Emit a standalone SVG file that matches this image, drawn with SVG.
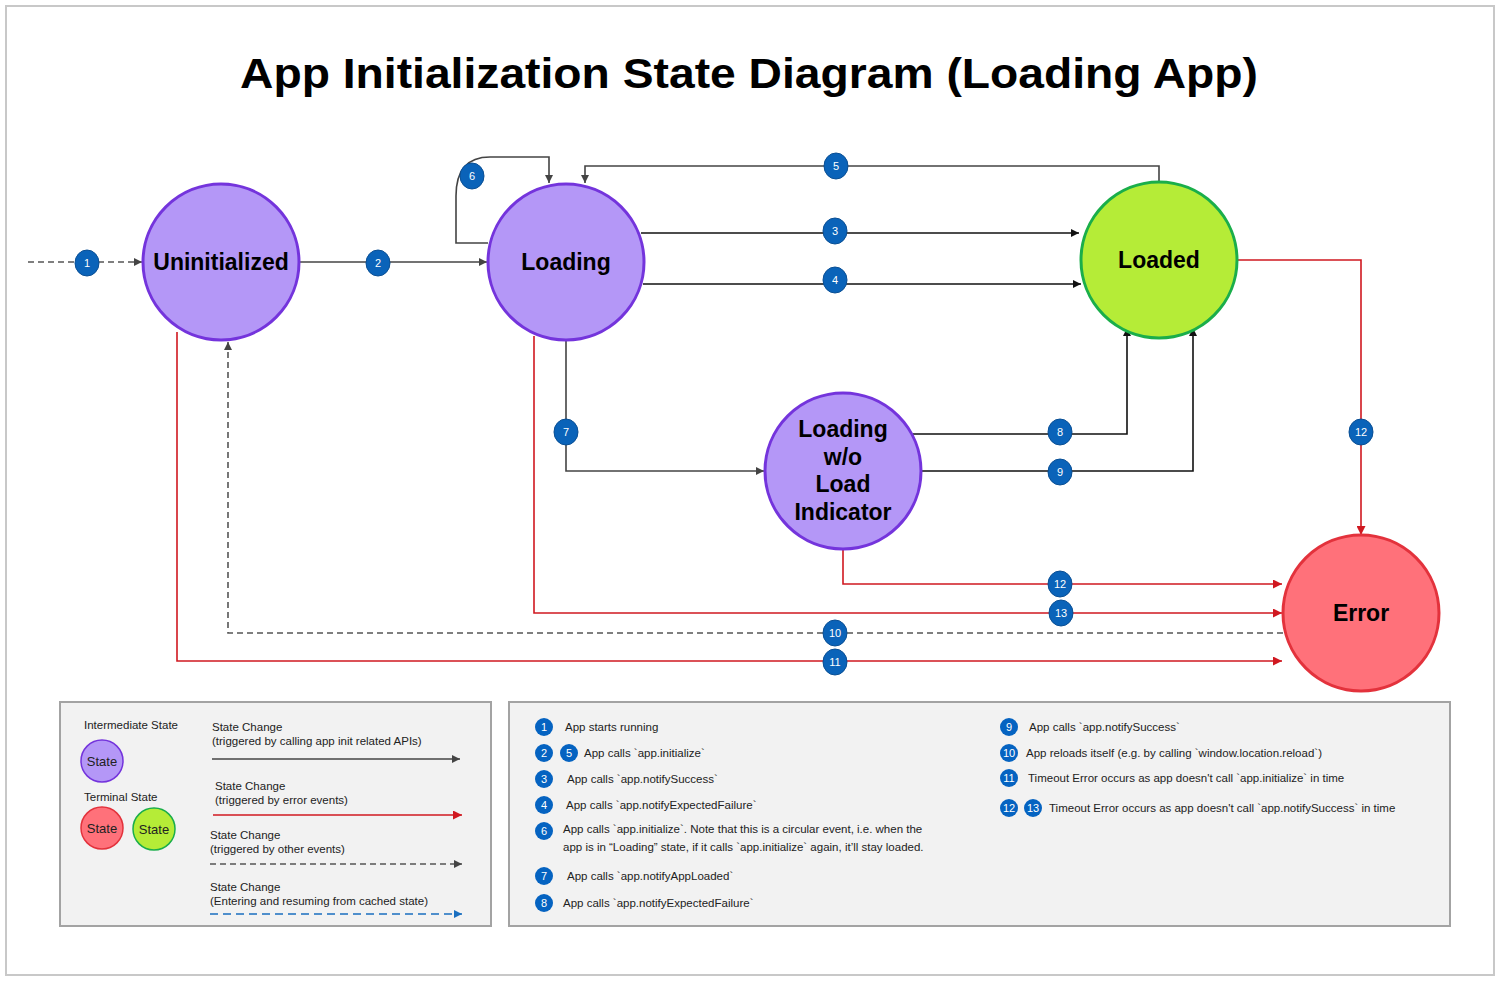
<svg xmlns="http://www.w3.org/2000/svg" width="1500" height="981" viewBox="0 0 1500 981">
<defs>
<style>
.title{font-family:"Liberation Sans",Arial,sans-serif;font-weight:bold;font-size:42px;fill:#000}
.nl{font-family:"Liberation Sans",Arial,sans-serif;font-weight:bold;font-size:23px;fill:#000;text-anchor:middle}
.purple{fill:#b497f7;stroke:#7434dc;stroke-width:3}
.green{fill:#b5ec37;stroke:#1aae4a;stroke-width:3}
.red{fill:#ff717a;stroke:#e3323c;stroke-width:3}
.cg{fill:none;stroke:#444;stroke-width:1.6}
.ck{fill:none;stroke:#111;stroke-width:1.6}
.cr{fill:none;stroke:#d01820;stroke-width:1.6}
.cd{fill:none;stroke:#555;stroke-width:1.6;stroke-dasharray:6 4}
.cb{fill:none;stroke:#1a6fc0;stroke-width:1.6;stroke-dasharray:8 5}
.bd{fill:#0a63b9;stroke:#0a4f94;stroke-width:1}
.bt{font-family:"Liberation Sans",Arial,sans-serif;font-size:11px;fill:#fff;text-anchor:middle}
.lg{fill:#f2f2f2;stroke:#a3a3a3;stroke-width:2}
.lt{font-family:"Liberation Sans",Arial,sans-serif;font-size:11.5px;fill:#222}
.lb{fill:#0563c1}
.lbt{font-family:"Liberation Sans",Arial,sans-serif;font-size:11px;fill:#fff;text-anchor:middle}
.st{font-family:"Liberation Sans",Arial,sans-serif;font-size:13px;fill:#222;text-anchor:middle}
</style>
<marker id="ag" viewBox="0 0 10 10" refX="10" refY="5" markerWidth="8" markerHeight="8" markerUnits="userSpaceOnUse" orient="auto"><path d="M0,0 L10,5 L0,10 z" fill="#444"/></marker>
<marker id="ak" viewBox="0 0 10 10" refX="10" refY="5" markerWidth="8" markerHeight="8" markerUnits="userSpaceOnUse" orient="auto"><path d="M0,0 L10,5 L0,10 z" fill="#111"/></marker>
<marker id="ar" viewBox="0 0 10 10" refX="10" refY="5" markerWidth="9" markerHeight="9" markerUnits="userSpaceOnUse" orient="auto"><path d="M0,0 L10,5 L0,10 z" fill="#d01820"/></marker>
<marker id="ab" viewBox="0 0 10 10" refX="10" refY="5" markerWidth="8" markerHeight="8" markerUnits="userSpaceOnUse" orient="auto"><path d="M0,0 L10,5 L0,10 z" fill="#1a6fc0"/></marker>
</defs>
<rect x="0" y="0" width="1500" height="981" fill="#fff"/>
<rect x="6" y="6" width="1488" height="969" fill="#fff" stroke="#c8c8c8" stroke-width="2"/>
<text class="title" x="749" y="88" text-anchor="middle" textLength="1018" lengthAdjust="spacingAndGlyphs">App Initialization State Diagram (Loading App)</text>

<g id="connectors">
<path class="cd" d="M28,262 H142" marker-end="url(#ag)"/>
<path class="cg" d="M300,262 H487" marker-end="url(#ag)"/>
<path class="ck" d="M641,233 H1079" marker-end="url(#ak)"/>
<path class="ck" d="M643,284 H1081" marker-end="url(#ak)"/>
<path class="cg" d="M1159,182 V166 H585 V183" marker-end="url(#ag)"/>
<path class="cg" d="M488,243 H456 V196 Q456,157 490,157 H549 V183" marker-end="url(#ag)"/>
<path class="cg" d="M566,341 V471 H764" marker-end="url(#ag)"/>
<path class="ck" d="M913,434 H1127 V328" marker-end="url(#ak)"/>
<path class="ck" d="M921,471 H1193 V328" marker-end="url(#ak)"/>
<path class="cr" d="M1238,260 H1361 V535" marker-end="url(#ar)"/>
<path class="cr" d="M843,550 V584 H1282" marker-end="url(#ar)"/>
<path class="cr" d="M534,336 V613 H1282" marker-end="url(#ar)"/>
<path class="cd" d="M1283,633 H228 V342" marker-end="url(#ag)"/>
<path class="cr" d="M177,332 V661 H1282" marker-end="url(#ar)"/>
</g>

<g id="badges">
<g id="b1"><ellipse class="bd" cx="87" cy="263" rx="12" ry="13"/><text class="bt" x="87" y="267">1</text></g>
<g id="b2"><ellipse class="bd" cx="378" cy="263" rx="12" ry="13"/><text class="bt" x="378" y="267">2</text></g>
<g id="b3"><ellipse class="bd" cx="835" cy="231" rx="12" ry="13"/><text class="bt" x="835" y="235">3</text></g>
<g id="b4"><ellipse class="bd" cx="835" cy="280" rx="12" ry="13"/><text class="bt" x="835" y="284">4</text></g>
<g id="b5"><ellipse class="bd" cx="836" cy="166" rx="12" ry="13"/><text class="bt" x="836" y="170">5</text></g>
<g id="b6"><ellipse class="bd" cx="472" cy="176" rx="12" ry="13"/><text class="bt" x="472" y="180">6</text></g>
<g id="b7"><ellipse class="bd" cx="566" cy="432" rx="12" ry="13"/><text class="bt" x="566" y="436">7</text></g>
<g id="b8"><ellipse class="bd" cx="1060" cy="432" rx="12" ry="13"/><text class="bt" x="1060" y="436">8</text></g>
<g id="b9"><ellipse class="bd" cx="1060" cy="472" rx="12" ry="13"/><text class="bt" x="1060" y="476">9</text></g>
<g id="b12a"><ellipse class="bd" cx="1361" cy="432" rx="12" ry="13"/><text class="bt" x="1361" y="436">12</text></g>
<g id="b12b"><ellipse class="bd" cx="1060" cy="584" rx="12" ry="13"/><text class="bt" x="1060" y="588">12</text></g>
<g id="b13"><ellipse class="bd" cx="1061" cy="613" rx="12" ry="13"/><text class="bt" x="1061" y="617">13</text></g>
<g id="b10"><ellipse class="bd" cx="835" cy="633" rx="12" ry="13"/><text class="bt" x="835" y="637">10</text></g>
<g id="b11"><ellipse class="bd" cx="835" cy="662" rx="12" ry="13"/><text class="bt" x="835" y="666">11</text></g>
</g>

<g id="uninitialized"><circle class="purple" cx="221" cy="262" r="78"/><text class="nl" x="221" y="270">Uninitialized</text></g>
<g id="loading"><circle class="purple" cx="566" cy="262" r="78"/><text class="nl" x="566" y="270">Loading</text></g>
<g id="loaded"><circle class="green" cx="1159" cy="260" r="78"/><text class="nl" x="1159" y="268">Loaded</text></g>
<g id="loading-wo"><circle class="purple" cx="843" cy="471" r="78"/>
<text class="nl" x="843" y="437">Loading</text><text class="nl" x="843" y="465">w/o</text><text class="nl" x="843" y="492">Load</text><text class="nl" x="843" y="520">Indicator</text></g>
<g id="error"><circle class="red" cx="1361" cy="613" r="78"/><text class="nl" x="1361" y="621">Error</text></g>

<g id="legend-styles">
<rect class="lg" x="60" y="702" width="431" height="224"/>
<text class="lt" x="84" y="729">Intermediate State</text>
<circle cx="102" cy="761" r="21" fill="#b497f7" stroke="#7434dc" stroke-width="1.5"/><text class="st" x="102" y="766">State</text>
<text class="lt" x="84" y="801">Terminal State</text>
<circle cx="102" cy="828" r="21" fill="#ff717a" stroke="#e3323c" stroke-width="1.5"/><text class="st" x="102" y="833">State</text>
<circle cx="154" cy="829" r="21" fill="#b5ec37" stroke="#1aae4a" stroke-width="1.5"/><text class="st" x="154" y="834">State</text>
<text class="lt" x="212" y="731">State Change</text>
<text class="lt" x="212" y="745">(triggered by calling app init related APIs)</text>
<path class="cg" d="M212,759 H460" marker-end="url(#ag)"/>
<text class="lt" x="215" y="790">State Change</text>
<text class="lt" x="215" y="804">(triggered by error events)</text>
<path class="cr" d="M213,815 H462" marker-end="url(#ar)"/>
<text class="lt" x="210" y="839">State Change</text>
<text class="lt" x="210" y="853">(triggered by other events)</text>
<path class="cd" d="M210,864 H462" marker-end="url(#ag)"/>
<text class="lt" x="210" y="891">State Change</text>
<text class="lt" x="210" y="905">(Entering and resuming from cached state)</text>
<path class="cb" d="M210,914 H462" marker-end="url(#ab)"/>
</g>

<g id="legend-events">
<rect class="lg" x="509" y="702" width="941" height="224"/>
<circle class="lb" cx="544" cy="727" r="9"/><text class="lbt" x="544" y="731">1</text>
<text class="lt" x="565" y="731">App starts running</text>
<circle class="lb" cx="544" cy="753" r="9"/><text class="lbt" x="544" y="757">2</text>
<circle class="lb" cx="569" cy="753" r="9"/><text class="lbt" x="569" y="757">5</text>
<text class="lt" x="584" y="757">App calls `app.initialize`</text>
<circle class="lb" cx="544" cy="779" r="9"/><text class="lbt" x="544" y="783">3</text>
<text class="lt" x="567" y="783">App calls `app.notifySuccess`</text>
<circle class="lb" cx="544" cy="805" r="9"/><text class="lbt" x="544" y="809">4</text>
<text class="lt" x="566" y="809">App calls `app.notifyExpectedFailure`</text>
<circle class="lb" cx="544" cy="831" r="9"/><text class="lbt" x="544" y="835">6</text>
<text class="lt" x="563" y="833">App calls `app.initialize`. Note that this is a circular event, i.e. when the</text>
<text class="lt" x="563" y="851">app is in “Loading” state, if it calls `app.initialize` again, it’ll stay loaded.</text>
<circle class="lb" cx="544" cy="876" r="9"/><text class="lbt" x="544" y="880">7</text>
<text class="lt" x="567" y="880">App calls `app.notifyAppLoaded`</text>
<circle class="lb" cx="544" cy="903" r="9"/><text class="lbt" x="544" y="907">8</text>
<text class="lt" x="563" y="907">App calls `app.notifyExpectedFailure`</text>
<circle class="lb" cx="1009" cy="727" r="9"/><text class="lbt" x="1009" y="731">9</text>
<text class="lt" x="1029" y="731">App calls `app.notifySuccess`</text>
<circle class="lb" cx="1009" cy="753" r="9"/><text class="lbt" x="1009" y="757">10</text>
<text class="lt" x="1026" y="757">App reloads itself (e.g. by calling `window.location.reload`)</text>
<circle class="lb" cx="1009" cy="778" r="9"/><text class="lbt" x="1009" y="782">11</text>
<text class="lt" x="1028" y="782">Timeout Error occurs as app doesn't call `app.initialize` in time</text>
<circle class="lb" cx="1009" cy="808" r="9"/><text class="lbt" x="1009" y="812">12</text>
<circle class="lb" cx="1033" cy="808" r="9"/><text class="lbt" x="1033" y="812">13</text>
<text class="lt" x="1049" y="812">Timeout Error occurs as app doesn't call `app.notifySuccess` in time</text>
</g>
</svg>
